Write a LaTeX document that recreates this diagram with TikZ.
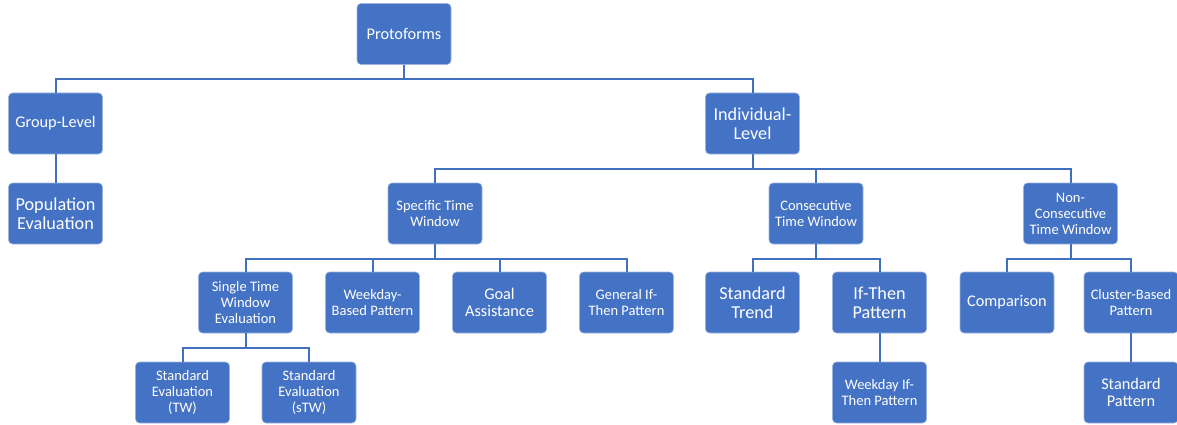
\documentclass[tikz,border=0pt]{standalone}
\usepackage{fontspec}
\setmainfont{Carlito}
\usetikzlibrary{positioning}
\definecolor{boxblue}{HTML}{4472C4}
\definecolor{boxedge}{HTML}{9DB4E0}
\definecolor{linkblue}{HTML}{4070BE}
\tikzset{
box/.style={draw=boxedge, fill=boxblue, text=white, rounded corners=4pt, minimum width=94pt, minimum height=61pt, align=center, inner sep=1pt, line width=0.6pt}, % every box of the tree
small/.style={font=\fontsize{14.5}{16}\selectfont}, % three sizes of text, as in the boxes
mid/.style={font=\fontsize{16.3}{17.5}\selectfont},
big/.style={font=\fontsize{18.2}{19.3}\selectfont},
link/.style={draw=linkblue, line width=2pt}, % the elbow connectors
node distance=127pt, % spacing of the boxes in a row
}

\begin{document}
\begin{tikzpicture}[x=1pt, y=-1pt]
    \useasboundingbox (0,0) rectangle (1177,425);
    \node[box, mid] (proto) at (404,34) {Protoforms};
    \node[box, mid] (group) at (55.5,123.5) {Group-Level};
    \node[box, big] (popeval) at (55.5,213.5) {Population\\Evaluation};
    \node[box, big] (indiv) at (752.5,123.5) {Individual-\\Level};
    \node[box, small] (specific) at (435,213.5) {Specific Time\\Window};
    \node[box, small] (consec) at (816,213.5) {Consecutive\\Time Window};
    \node[box, small] (nonconsec) at (1070.5,213.5) {Non-\\Consecutive\\Time Window};
    \node[box, small] (single) at (245.5,302.5) {Single Time\\Window\\Evaluation};
    \node[box, small, right of=single] (wdbased) {Weekday-\\Based Pattern};
    \node[box, mid, right of=wdbased] (goal) {Goal\\Assistance};
    \node[box, small, right of=goal] (general) {General If-\\Then Pattern};
    \node[box, big] (stdtrend) at (752.5,302.5) {Standard\\Trend};
    \node[box, big, right of=stdtrend] (ifthen) {If-Then\\Pattern};
    \node[box, mid] (compare) at (1007,302.5) {Comparison};
    \node[box, small] (cluster) at (1131,302.5) {Cluster-Based\\Pattern};
    \node[box, small] (stdtw) at (182.5,392.5) {Standard\\Evaluation\\(TW)};
    \node[box, small] (stdstw) at (309,392.5) {Standard\\Evaluation\\(sTW)};
    \node[box, small] (wdifthen) at (879.5,392.5) {Weekday If-\\Then Pattern};
    \node[box, mid] (stdpattern) at (1131,392.5) {Standard\\Pattern};
    % connectors, each one drops to its bus and then into the child
    \foreach \p/\c in {proto/group, proto/indiv, group/popeval,
        indiv/specific, indiv/consec, indiv/nonconsec,
        specific/single, specific/wdbased, specific/goal, specific/general,
        consec/stdtrend, consec/ifthen, nonconsec/compare, nonconsec/cluster,
        single/stdtw, single/stdstw, ifthen/wdifthen, cluster/stdpattern}
        \draw[link] (\p.south) -- ++(0,14.5) -| (\c.north);
\end{tikzpicture}
\end{document}
